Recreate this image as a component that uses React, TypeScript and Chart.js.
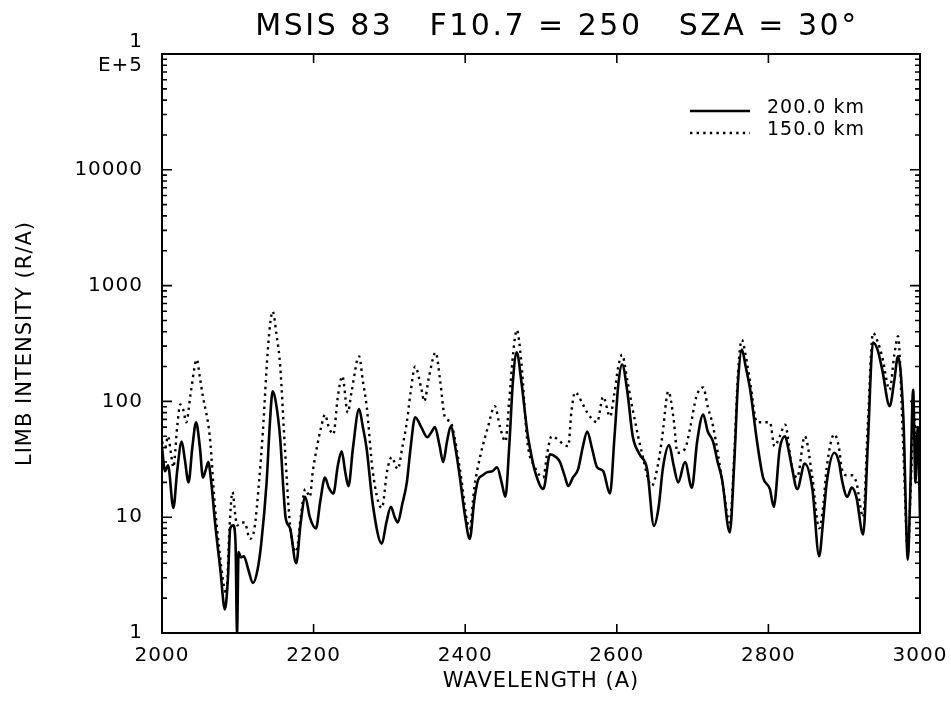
import React, { useEffect, useRef } from "react";
import { Chart, registerables } from "chart.js";

Chart.register(...registerables);

const TITLE = "MSIS 83   F10.7 = 250   SZA = 30°";
const X_TITLE = "WAVELENGTH (A)";
const Y_TITLE = "LIMB INTENSITY (R/A)";
const X_MIN = 2000;
const X_MAX = 3000;
const X_STEP = 200;
const Y_TICKS = [1, 10, 100, 1000, 10000, 100000];
const X_INNER_TICKS = [2200, 2400, 2600, 2800];

const solidLabel = "200.0 km";
const dottedLabel = "150.0 km";

const solidWave = [
  2000, 2004, 2008, 2015, 2020, 2026, 2030, 2035, 2040, 2045, 2050, 2054, 2058, 2061, 2065, 2070, 2077, 2083, 2087, 2090,
  2094, 2097, 2099, 2101, 2104, 2108, 2114, 2120, 2126, 2131, 2138, 2142, 2146, 2150, 2156, 2160, 2163, 2169, 2177, 2183,
  2189, 2195, 2203, 2209, 2215, 2220, 2226, 2232, 2237, 2242, 2246, 2252, 2260, 2265, 2270, 2278, 2290, 2296, 2302, 2307,
  2311, 2317, 2323, 2328, 2334, 2342, 2350, 2356, 2360, 2366, 2371, 2376, 2381, 2387, 2393, 2400, 2406, 2412, 2417, 2423,
  2429, 2436, 2442, 2448, 2453, 2458, 2463, 2468, 2474, 2482, 2487, 2492, 2503, 2512, 2520, 2525, 2531, 2536, 2542, 2549,
  2555, 2561, 2567, 2574, 2582, 2591, 2597, 2602, 2607, 2614, 2621, 2630, 2640, 2649, 2655, 2661, 2669, 2675, 2681, 2690,
  2699, 2706, 2714, 2720, 2727, 2733, 2739, 2749, 2755, 2760, 2765, 2770, 2776, 2785, 2793, 2802, 2807, 2815, 2822, 2826,
  2831, 2838, 2848, 2858, 2867, 2872, 2877, 2887, 2893, 2897, 2904, 2910, 2916, 2925, 2931, 2938, 2944, 2950, 2960, 2966,
  2971, 2978, 2984, 2987, 2991, 2994, 2997, 3000,
];
const solidValues = [
  40, 25, 28, 12, 25, 45, 32, 20, 40, 66, 40, 22, 26, 30, 20, 9, 3.5, 1.6, 3, 8,
  8.5, 6, 1.0, 5, 4.5, 4.6, 3.5, 2.7, 3.5, 6, 20, 60, 122, 100, 47, 18, 10, 8, 4.0, 9,
  15, 10, 8, 14, 22, 18, 16, 28, 37, 24, 18.5, 40, 86, 60, 39, 13, 5.9, 9, 12.3, 10,
  9, 13, 20, 40, 73, 60, 49, 55, 60, 42, 30, 45, 61, 40, 22, 10, 6.5, 14, 21, 23,
  24.5, 25, 27, 20, 15, 40, 150, 265, 150, 54, 35, 25, 17.5, 35, 33, 30, 23, 18.6, 22, 26,
  40, 55, 40, 27, 25, 16, 50, 140, 208, 120, 50, 35, 26, 8.4, 12, 27, 42, 28, 20, 30,
  18, 45, 77, 55, 45, 30, 21, 7.4, 30, 150, 280, 200, 126, 45, 22, 17.5, 12.3, 39, 50, 40,
  27, 17.5, 29, 17.5, 4.6, 9, 20, 36, 30, 21, 15, 18, 15, 7.1, 40, 323, 280, 190, 91, 150,
  245, 74, 4.3, 15, 126, 20, 60, 10,
];

const dottedWave = [
  2000, 2004, 2008, 2012, 2015, 2020, 2024, 2028, 2032, 2038, 2046, 2050, 2054, 2063, 2070, 2076, 2081, 2085, 2089, 2093,
  2097, 2099, 2104, 2109, 2116, 2122, 2128, 2133, 2140, 2146, 2151, 2156, 2162, 2169, 2177, 2183, 2189, 2195, 2199, 2204,
  2210, 2215, 2220, 2226, 2232, 2238, 2245, 2250, 2260, 2265, 2270, 2278, 2290, 2297, 2303, 2311, 2317, 2323, 2328, 2334,
  2342, 2346, 2352, 2361, 2367, 2373, 2381, 2387, 2393, 2406, 2412, 2420, 2430, 2439, 2446, 2453, 2458, 2463, 2468, 2474,
  2482, 2492, 2503, 2508, 2514, 2520, 2525, 2536, 2540, 2545, 2555, 2561, 2574, 2582, 2591, 2597, 2602, 2607, 2614, 2621,
  2634, 2646, 2655, 2660, 2668, 2675, 2680, 2690, 2697, 2705, 2714, 2720, 2727, 2739, 2749, 2755, 2760, 2765, 2770, 2776,
  2785, 2793, 2802, 2808, 2815, 2822, 2831, 2838, 2848, 2858, 2867, 2872, 2877, 2887, 2893, 2897, 2904, 2910, 2916, 2925,
  2931, 2938, 2944, 2950, 2960, 2966, 2971, 2978, 2984, 2988, 2992, 2996, 3000,
];
const dottedValues = [
  45, 40, 50, 35, 27, 60, 94, 85, 66, 120, 230, 160, 110, 50, 12, 5, 2.7, 2.2, 8, 16.5,
  10, 8.5, 9, 9, 6.5, 8, 20, 54, 300, 600, 380, 200, 41, 8.5, 5, 10, 17.5, 15, 25, 39,
  60, 77, 60, 52, 110, 165, 80, 120, 245, 150, 91, 25, 12, 25, 33, 26, 40, 66, 120, 200,
  130, 100, 160, 265, 150, 74, 66, 45, 26, 8, 18, 34, 60, 91, 60, 45, 100, 250, 415, 220,
  45, 27, 22, 35, 50, 48, 45, 41, 80, 120, 95, 80, 66, 110, 74, 120, 200, 253, 150, 85,
  34, 18.6, 30, 50, 122, 70, 36, 39, 60, 110, 132, 90, 61, 21, 9, 35, 180, 340, 250, 145,
  66, 66, 66, 41, 50, 63, 27, 22, 50, 22, 8, 12, 27, 52, 40, 26, 23, 23, 20, 10,
  60, 390, 330, 245, 126, 250, 365, 39, 5, 20, 80, 30, 40,
];

const FONT = "'DejaVu Sans', sans-serif";

const spacingPlugin = {
  id: "letterSpacing",
  beforeDraw(chart: any) {
    (chart.ctx as any).letterSpacing = "1px";
  },
};

const framePlugin = {
  id: "frameTicks",
  afterDatasetsDraw(chart: any) {
    const { ctx, chartArea } = chart;
    const y = chart.scales.y;
    const x = chart.scales.x;
    const { left, right, top, bottom } = chartArea;
    ctx.save();
    ctx.strokeStyle = "#000";
    ctx.lineWidth = 2;
    ctx.strokeRect(left, top, right - left, bottom - top);
    ctx.lineWidth = 1.6;
    ctx.beginPath();
    for (let d = 0; d < 5; d++) {
      for (let m = 1; m <= 9; m++) {
        const v = m * Math.pow(10, d);
        const py = y.getPixelForValue(v);
        const len = m === 1 ? 10 : 5;
        ctx.moveTo(left, py);
        ctx.lineTo(left + len, py);
        ctx.moveTo(right, py);
        ctx.lineTo(right - len, py);
      }
    }
    for (const t of X_INNER_TICKS) {
      const px = x.getPixelForValue(t);
      ctx.moveTo(px, bottom);
      ctx.lineTo(px, bottom - 9);
      ctx.moveTo(px, top);
      ctx.lineTo(px, top + 9);
    }
    ctx.stroke();
    ctx.restore();
  },
};

const legendTitlePlugin = {
  id: "legendTitle",
  afterDraw(chart: any) {
    const { ctx } = chart;
    ctx.save();
    ctx.fillStyle = "#000";
    ctx.font = `30px ${FONT}`;
    (ctx as any).letterSpacing = "2.5px";
    ctx.textAlign = "center";
    ctx.textBaseline = "middle";
    ctx.fillText(TITLE, 557, 27);

    const items = chart.data.datasets.map((ds: any, i: number) => ({
      label: ds.label,
      dash: ds.borderDash || [],
      y: i === 0 ? 111 : 133,
    }));
    ctx.font = `19px ${FONT}`;
    (ctx as any).letterSpacing = "1px";
    ctx.textAlign = "left";
    for (const it of items) {
      ctx.strokeStyle = "#000";
      ctx.lineWidth = 2.4;
      ctx.setLineDash(it.dash);
      ctx.beginPath();
      ctx.moveTo(690, it.y);
      ctx.lineTo(750, it.y);
      ctx.stroke();
      ctx.setLineDash([]);
      ctx.fillText(it.label, 767, it.y - 3);
    }
    ctx.restore();
  },
};

export default function App() {
  const ref = useRef<HTMLCanvasElement | null>(null);
  useEffect(() => {
    document.body.style.margin = "0";
    const canvas = ref.current;
    if (!canvas) return;
    Chart.defaults.color = "#000";
    const chart = new Chart(canvas, {
      type: "line",
      data: {
        datasets: [
          {
            label: solidLabel,
            data: solidWave.map((w, i) => ({ x: w, y: solidValues[i] })),
            borderColor: "#000",
            borderWidth: 2.6,
            pointRadius: 0,
            cubicInterpolationMode: "monotone",
            fill: false,
          },
          {
            label: dottedLabel,
            data: dottedWave.map((w, i) => ({ x: w, y: dottedValues[i] })),
            borderColor: "#000",
            borderWidth: 2.4,
            borderDash: [2.4, 4.2],
            pointRadius: 0,
            cubicInterpolationMode: "monotone",
            fill: false,
          },
        ],
      },
      options: {
        responsive: false,
        animation: false,
        devicePixelRatio: 1,
        layout: { padding: { left: 0, right: 31, top: 54, bottom: 0 } },
        plugins: {
          legend: { display: false },
          title: { display: false },
          tooltip: { enabled: false },
        },
        scales: {
          x: {
            type: "linear",
            min: X_MIN,
            max: X_MAX,
            afterFit: (s: any) => {
              s.height = 79;
              s.paddingLeft = 0;
              s.paddingRight = 0;
            },
            grid: { display: false, drawTicks: false },
            border: { display: false },
            ticks: {
              stepSize: X_STEP,
              maxRotation: 0,
              padding: 11,
              color: "#000",
              font: { family: FONT, size: 20 },
              callback: (v: any) => String(v),
            },
            title: {
              display: true,
              text: X_TITLE,
              color: "#000",
              font: { family: FONT, size: 21 },
              padding: { top: 0, bottom: 18 },
            },
          },
          y: {
            type: "logarithmic",
            min: 1,
            max: 100000,
            afterFit: (s: any) => {
              s.width = 162;
              s.paddingTop = 0;
              s.paddingBottom = 0;
            },
            afterBuildTicks: (s: any) => {
              s.ticks = Y_TICKS.map((v) => ({ value: v, major: true }));
            },
            grid: { display: false, drawTicks: false },
            border: { display: false },
            ticks: {
              padding: 19,
              color: "#000",
              font: { family: FONT, size: 20 },
              callback: (v: any) => (Number(v) === 100000 ? ["1", "E+5"] : String(v)),
            },
            title: {
              display: true,
              text: Y_TITLE,
              color: "#000",
              font: { family: FONT, size: 21 },
              padding: { top: 13, bottom: 0 },
            },
          },
        },
      },
      plugins: [spacingPlugin, framePlugin, legendTitlePlugin],
    } as any);
    return () => chart.destroy();
  }, []);
  return (
    <div style={{ width: 951, height: 712 }}>
      <canvas ref={ref} width={951} height={712} />
    </div>
  );
}
